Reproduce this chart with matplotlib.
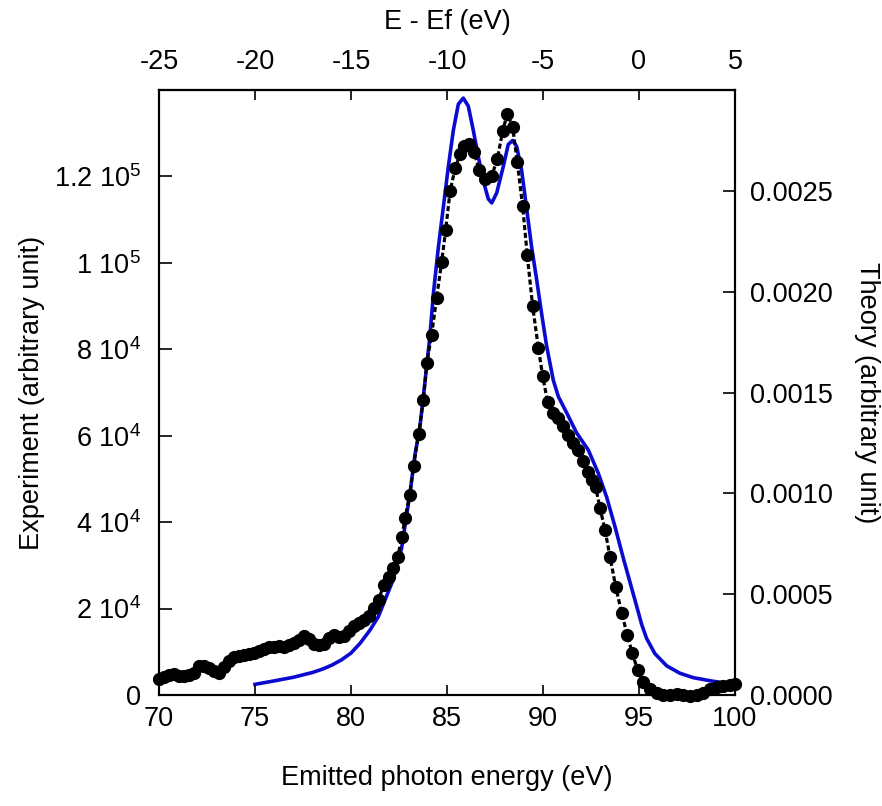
import matplotlib
matplotlib.use("Agg")
import matplotlib.pyplot as plt
from matplotlib.ticker import FuncFormatter

plt.rcParams['font.family'] = ['Liberation Sans', 'DejaVu Sans']
plt.rcParams['mathtext.fontset'] = 'custom'
plt.rcParams['mathtext.rm'] = 'Liberation Sans'
plt.rcParams['mathtext.it'] = 'Liberation Sans'
plt.rcParams['axes.unicode_minus'] = False

# experiment (black dots), photon energy in eV
exp_energy = [70.00, 70.26, 70.52, 70.78, 71.04, 71.30, 71.56, 71.82, 72.08, 72.34,
              72.60, 72.86, 73.12, 73.38, 73.64, 73.90, 74.16, 74.42, 74.68, 74.94,
              75.20, 75.46, 75.72, 75.98, 76.24, 76.50, 76.76, 77.02, 77.28, 77.54,
              77.80, 78.06, 78.32, 78.58, 78.84, 79.10, 79.36, 79.62, 79.88, 80.14,
              80.40, 80.66, 80.92, 81.18, 81.44, 81.70, 81.96, 82.20, 82.44, 82.64,
              82.82, 83.06, 83.26, 83.52, 83.77, 83.95, 84.20, 84.46, 84.72, 84.93,
              85.16, 85.43, 85.68, 85.89, 86.16, 86.41, 86.67, 86.98, 87.33, 87.62,
              87.90, 88.14, 88.42, 88.66, 88.94, 89.18, 89.46, 89.76, 89.98, 90.24,
              90.52, 90.80, 91.04, 91.32, 91.58, 91.84, 92.10, 92.36, 92.56, 92.74,
              92.97, 93.23, 93.49, 93.79, 94.10, 94.39, 94.65, 94.93, 95.22, 95.57,
              95.92, 96.27, 96.60, 96.96, 97.30, 97.66, 98.00, 98.35, 98.70, 99.05,
              99.39, 99.74, 99.98]
exp_counts = [3600, 4200, 4700, 4800, 4400, 4500, 4700, 5000, 6600, 6800,
              6200, 5600, 5200, 6400, 7800, 8700, 9000, 9200, 9400, 9700,
              10200, 10700, 11000, 11200, 11300, 11200, 11500, 12100, 12700, 13600,
              12900, 11800, 11600, 11800, 13200, 14000, 13500, 13700, 14700, 16000,
              16600, 17400, 18400, 20200, 22000, 25500, 27200, 29500, 32000, 36500,
              41000, 46300, 53100, 60400, 68300, 76900, 83400, 91900, 100200, 107600,
              116600, 122000, 125100, 127000, 127600, 125600, 121600, 119300, 120100, 124000,
              130500, 134500, 131400, 123300, 113100, 101800, 90000, 80300, 73900, 67800,
              65300, 64100, 62200, 60200, 58300, 56800, 54200, 51500, 49800, 48100,
              43300, 38200, 32000, 25000, 19000, 13900, 9700, 5800, 2900, 1300,
              400, 0, 0, 300, 0, -300, 0, 500, 1300, 1800,
              2200, 2400, 2500]

# theory (blue line)
th_energy = [75.00, 76.00, 77.00, 78.00, 78.50, 79.00, 79.50, 80.00, 80.47, 80.99,
             81.42, 81.77, 82.12, 82.38, 82.64, 83.07, 83.33, 83.59, 83.85, 84.11,
             84.29, 84.55, 84.81, 85.07, 85.33, 85.59, 85.85, 86.11, 86.37, 86.63,
             86.89, 87.15, 87.33, 87.59, 87.93, 88.19, 88.42, 88.63, 88.89, 89.15,
             89.41, 89.67, 89.93, 90.19, 90.54, 90.80, 91.23, 91.75, 92.36, 92.88,
             93.32, 93.75, 94.18, 94.53, 94.88, 95.14, 95.40, 95.83, 96.44, 97.13,
             97.83, 98.87, 99.74, 100.00]
th_value = [5.3e-5, 7.0e-5, 8.8e-5, 1.12e-4, 1.28e-4, 1.48e-4, 1.74e-4, 2.08e-4, 2.56e-4, 3.22e-4,
            3.88e-4, 4.71e-4, 5.54e-4, 6.36e-4, 7.30e-4, 1.00e-3, 1.19e-3, 1.33e-3, 1.55e-3, 1.78e-3,
            1.99e-3, 2.22e-3, 2.42e-3, 2.62e-3, 2.80e-3, 2.93e-3, 2.96e-3, 2.92e-3, 2.80e-3, 2.67e-3,
            2.55e-3, 2.46e-3, 2.44e-3, 2.49e-3, 2.62e-3, 2.73e-3, 2.75e-3, 2.72e-3, 2.60e-3, 2.41e-3,
            2.22e-3, 2.06e-3, 1.89e-3, 1.73e-3, 1.56e-3, 1.48e-3, 1.40e-3, 1.30e-3, 1.215e-3, 1.10e-3,
            9.8e-4, 8.35e-4, 6.8e-4, 5.6e-4, 4.4e-4, 3.5e-4, 2.8e-4, 2.05e-4, 1.45e-4, 1.08e-4,
            8.6e-5, 6.8e-5, 5.7e-5, 5.5e-5]

left_ticks = [0, 20000, 40000, 60000, 80000, 100000, 120000]
right_ticks = [0.0, 0.0005, 0.0010, 0.0015, 0.0020, 0.0025]
bottom_ticks = [70, 75, 80, 85, 90, 95, 100]
top_ticks = [-25, -20, -15, -10, -5, 0, 5]
fermi = 95.0


def sci_label(v, pos):
    if v == 0:
        return "0"
    exp = len(str(int(v))) - 1
    mant = v / 10 ** exp
    m = ("%g" % mant)
    return m + " 10$^{%d}$" % exp


fig = plt.figure(figsize=(8.82, 8.06), dpi=100)
ax = fig.add_axes([0.1803, 0.1377, 0.6530, 0.7506])
ax2 = ax.twinx()

ax2.plot(th_energy, th_value, color='#0a0ad0', linewidth=2.6)
ax.plot(exp_energy, exp_counts, color='black', linewidth=2.3, linestyle='--',
        dashes=(1.6, 0.85), marker='o', markersize=8.5, clip_on=False)

ax.set_zorder(ax2.get_zorder() + 1)
ax.patch.set_visible(False)

ax.set_xlim(70, 100)
ax.set_ylim(0, 140000)
ax2.set_ylim(0, 0.003)

ax.set_xticks(bottom_ticks)
ax.set_yticks(left_ticks)
ax.yaxis.set_major_formatter(FuncFormatter(sci_label))
ax2.set_yticks(right_ticks)
ax2.yaxis.set_major_formatter(FuncFormatter(lambda v, p: "%.4f" % v))

top = ax.secondary_xaxis('top', functions=(lambda x: x - fermi, lambda x: x + fermi))
top.set_xticks(top_ticks)

ax.tick_params(axis='x', direction='in', length=7, width=1.2, labelsize=19.5, pad=8, top=False)
ax.tick_params(axis='y', direction='in', length=9, width=1.2, labelsize=19.5, pad=13, right=False)
ax2.tick_params(axis='y', direction='in', length=9, width=1.2, labelsize=19.5, pad=11)
top.tick_params(axis='x', direction='in', length=7, width=1.2, labelsize=19.5, pad=11)

for a in (ax, ax2):
    for s in a.spines.values():
        s.set_linewidth(1.5)
top.spines['top'].set_linewidth(1.5)

ax.set_xlabel('Emitted photon energy (eV)', fontsize=19.5, labelpad=24)
ax.set_ylabel('Experiment (arbitrary unit)', fontsize=19.5, labelpad=6)
ax2.set_ylabel('Theory (arbitrary unit)', fontsize=19.5, rotation=270, labelpad=34)
top.set_xlabel('E - Ef (eV)', fontsize=19.5, labelpad=14)

fig.savefig('out.png', dpi=100)
